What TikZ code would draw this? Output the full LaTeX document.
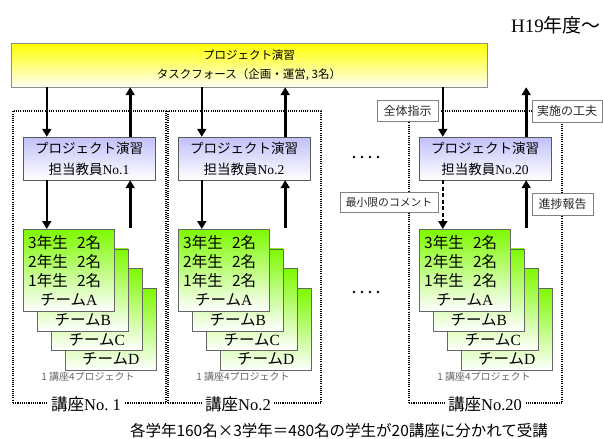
\documentclass[tikz,border=0pt]{standalone}
\usepackage{fontspec}
\setmainfont{Liberation Serif}
\newfontfamily\jp{Noto Sans CJK JP}
\usetikzlibrary{arrows.meta}
\definecolor{limeg}{RGB}{125,250,0}
\definecolor{lav}{RGB}{192,192,250}
\definecolor{yel}{RGB}{255,255,0}
\begin{document}
\begin{tikzpicture}[x=1pt,y=-1pt,
  arr/.style={line width=2.6pt,-{Triangle[width=9pt,length=8pt]}},
  darr/.style={arr,dash pattern=on 4pt off 2.5pt},
  frame/.style={draw,line width=1.1pt,dash pattern=on 1.1pt off 1.1pt,minimum width=153pt,minimum height=292pt,inner sep=0pt},
  barbox/.style={draw=black!45,top color=yel,bottom color=yel!4,minimum width=476pt,minimum height=44pt,align=center,inner sep=0pt,font=\jp\fontsize{11.5}{19}\selectfont},
  teacher/.style={draw=black!65,top color=lav,bottom color=white,minimum width=132pt,minimum height=43pt,align=center,inner sep=0pt,font=\jp\fontsize{13.5}{21}\selectfont},
  card/.style={draw=black!60,top color=limeg,bottom color=white,minimum width=91pt,minimum height=82pt,anchor=north west,inner sep=0pt},
  cardtxt/.style={font=\jp\fontsize{15.5}{17}\selectfont,inner sep=0pt},
  tag/.style={draw=black!50,fill=white,inner sep=0pt,font=\jp\fontsize{12}{14}\selectfont,text=black!85},
  course/.style={fill=white,inner xsep=3pt,inner ysep=1pt,font=\fontsize{16.5}{18}\selectfont},
  note/.style={font=\jp\fontsize{10}{12}\selectfont,text=black!60,inner sep=0pt}
]
\path[use as bounding box] (0,0) rectangle (603,439);

\node[anchor=east,font=\fontsize{19}{22}\selectfont,inner sep=0pt] (year) at (601,25) {H19{\jp 年度～}};

\node[barbox] (bar) at (249,65) {プロジェクト演習\\タスクフォース（企画・運営, 3名）};

\foreach \i/\x/\lab/\clab/\cx/\dst in {1/0/No.1/No.\ 1/86/arr, 2/155/No.2/No.2/238/arr, 3/396/No.20/No.20/485/darr}{
  \node[frame] (f\i) at ({89.5+\x},257) {};
  \node[course] (k\i) at (\cx,404) {{\jp 講座}\clab};
  \node[teacher] (t\i) at ({89+\x},158.5) {プロジェクト演習\\担当教員{\rmfamily\lab}};
  \foreach \j/\L in {3/D,2/C,1/B,0/A}{
    \node[card] (c\i\L) at ({23+\x+14*\j},{229+19.7*\j}) {};
    \node[cardtxt,anchor=west] at ([shift={(5,14)}]c\i\L.north west) {3年生\hspace{.6em}2名};
    \node[cardtxt,anchor=west] at ([shift={(5,33)}]c\i\L.north west) {2年生\hspace{.6em}2名};
    \node[cardtxt,anchor=west] at ([shift={(5,52)}]c\i\L.north west) {1年生\hspace{.6em}2名};
    \node[cardtxt] at ([shift={(0,71)}]c\i\L.north) {チーム{\rmfamily\L}};
  }
  \node[note] (n\i) at ({88+\x},377) {1 講座4プロジェクト};
  \coordinate (d\i) at ([xshift=24pt]t\i.north west);
  \coordinate (u\i) at ([xshift=-25pt]t\i.north east);
  \draw[arr] (bar.south -| d\i) -- (d\i);
  \draw[arr] (u\i) -- (bar.south -| u\i);
  \draw[\dst] (t\i.south -| d\i) -- (c\i A.north -| d\i);
  \draw[arr] ([yshift=1pt]c\i A.north -| u\i) -- (t\i.south -| u\i);
}

\node[tag,minimum width=61pt,minimum height=21pt] (g1) at (407.5,110.5) {全体指示};
\node[tag,minimum width=70pt,minimum height=22pt] (g2) at (567,111) {実施の工夫};
\node[tag,minimum width=98pt,minimum height=20pt,font=\jp\fontsize{10.8}{13}\selectfont] (g3) at (389,202) {最小限のコメント};
\node[tag,minimum width=61pt,minimum height=22pt] (g4) at (562.5,204) {進捗報告};

\foreach \k in {0,...,3}{
  \fill (354+8*\k,157) circle (1.3);
  \fill (354+8*\k,292) circle (1.3);
}

\node[font=\jp\fontsize{15.5}{18}\selectfont,inner sep=0pt] (foot) at (339,431) {各学年160名×3学年＝480名の学生が20講座に分かれて受講};
\end{tikzpicture}
\end{document}
